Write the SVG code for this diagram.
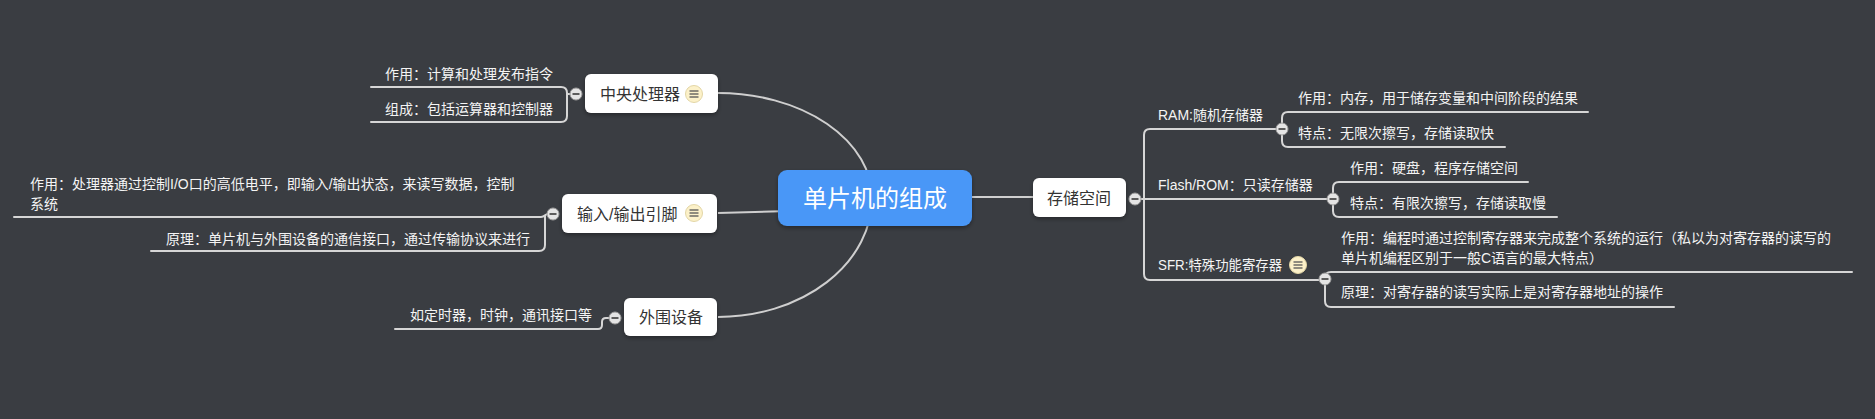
<svg xmlns="http://www.w3.org/2000/svg" width="1875" height="419" viewBox="0 0 1875 419">
<defs>
<style>
.bg{fill:#3a3d42}
.ln{fill:none;stroke:#d6d6d6;stroke-width:2;stroke-linecap:round}
.main{fill:none;stroke:#cfcfcf;stroke-width:2}
.node{fill:#ffffff}
.nt{font-family:"Liberation Sans","Noto Sans CJK SC",sans-serif;font-size:16px;fill:#333333}
.st{font-family:"Liberation Sans","Noto Sans CJK SC",sans-serif;font-size:14px;fill:#f4f4f4}
.ct{font-family:"Liberation Sans","Noto Sans CJK SC",sans-serif;font-size:24px;fill:#ffffff}
.cc{fill:#e4e4e4;stroke:#9c9c9c;stroke-width:1}
.mn{stroke:#5c5c5c;stroke-width:2}
.ni{fill:#fcf1c9;stroke:#e3d6a6;stroke-width:1}
.nl{stroke:#555555;stroke-width:1.3}
</style>
<filter id="sh" x="-20%" y="-30%" width="140%" height="170%">
<feDropShadow dx="0" dy="2" stdDeviation="2" flood-color="#000" flood-opacity="0.35"/>
</filter>
<g id="collapse"><circle class="cc" r="6"/><line class="mn" x1="-3.5" y1="0" x2="3.5" y2="0"/></g>
<g id="note"><circle class="ni" r="8.5"/><line class="nl" x1="-4.5" y1="-3" x2="4.5" y2="-3"/><line class="nl" x1="-4.5" y1="0" x2="4.5" y2="0"/><line class="nl" x1="-4.5" y1="3" x2="4.5" y2="3"/></g>
</defs>
<rect class="bg" x="0" y="0" width="1875" height="419"/>

<g id="connectors">
<path class="main" d="M718,93 A154,105 0 0 1 872,198"/>
<path class="main" d="M718,317 A154,119 0 0 0 872,198"/>
<path class="main" d="M718,213 L790,211"/>
<path class="main" d="M960,197 H1033"/>
<path class="ln" d="M576,94 H567 V93 Q567,87 561,87 H371"/>
<path class="ln" d="M567,94 V116 Q567,122 561,122 H371"/>
<path class="ln" d="M553,214 H548 C545,214 545,217 541,217 H14"/>
<path class="ln" d="M545,216 V245 Q545,251 539,251 H151"/>
<path class="ln" d="M615,318 H606 Q602,318 602,322 V325 Q602,329 598,329 H395"/>
<path class="ln" d="M1135,199 H1144 V135 Q1144,129 1150,129 H1282"/>
<path class="ln" d="M1144,199 V274 Q1144,280 1150,280 H1325"/>
<path class="ln" d="M1144,199 H1333"/>
<path class="ln" d="M1282,129 V118 Q1282,112 1288,112 H1588"/>
<path class="ln" d="M1282,129 V141 Q1282,147 1288,147 H1505"/>
<path class="ln" d="M1333,199 V188 Q1333,182 1339,182 H1528"/>
<path class="ln" d="M1333,199 V211 Q1333,217 1339,217 H1557"/>
<path class="ln" d="M1325,279 V278 Q1325,272 1331,272 H1852"/>
<path class="ln" d="M1325,279 V301 Q1325,307 1331,307 H1674"/>
</g>

<g id="node-center">
<rect x="778" y="170" width="194" height="56" rx="9" fill="#4897f7" filter="url(#sh)"/>
<text class="ct" x="875" y="207" text-anchor="middle">单片机的组成</text>
</g>

<g id="node-cpu">
<rect class="node" x="585" y="74" width="133" height="39" rx="6" filter="url(#sh)"/>
<text class="nt" x="600" y="99.5">中央处理器</text>
<use href="#note" x="694" y="94"/>
<use href="#collapse" x="576" y="94"/>
</g>
<g id="node-cpu-1"><text class="st" x="385" y="79">作用：计算和处理发布指令</text></g>
<g id="node-cpu-2"><text class="st" x="385" y="114">组成：包括运算器和控制器</text></g>

<g id="node-io">
<rect class="node" x="562" y="194" width="155" height="39" rx="6" filter="url(#sh)"/>
<text class="nt" x="577" y="219.5">输入/输出引脚</text>
<use href="#note" x="694" y="213"/>
<use href="#collapse" x="553" y="214"/>
</g>
<g id="node-io-1"><text class="st" x="30" y="189">作用：处理器通过控制I/O口的高低电平，即输入/输出状态，来读写数据，控制</text><text class="st" x="30" y="209">系统</text></g>
<g id="node-io-2"><text class="st" x="166" y="244">原理：单片机与外围设备的通信接口，通过传输协议来进行</text></g>

<g id="node-periph">
<rect class="node" x="624" y="298" width="93" height="38" rx="6" filter="url(#sh)"/>
<text class="nt" x="639" y="323">外围设备</text>
<use href="#collapse" x="615" y="318"/>
</g>
<g id="node-periph-1"><text class="st" x="410" y="320">如定时器，时钟，通讯接口等</text></g>

<g id="node-storage">
<rect class="node" x="1033" y="178" width="93" height="39" rx="6" filter="url(#sh)"/>
<text class="nt" x="1047" y="203.5">存储空间</text>
<use href="#collapse" x="1135" y="199"/>
</g>

<g id="node-ram">
<text class="st" x="1158" y="120">RAM:随机存储器</text>
<use href="#collapse" x="1282" y="129"/>
</g>
<g id="node-ram-1"><text class="st" x="1298" y="103">作用：内存，用于储存变量和中间阶段的结果</text></g>
<g id="node-ram-2"><text class="st" x="1298" y="138">特点：无限次擦写，存储读取快</text></g>

<g id="node-flash">
<text class="st" x="1158" y="190">Flash/ROM：只读存储器</text>
<use href="#collapse" x="1333" y="199"/>
</g>
<g id="node-flash-1"><text class="st" x="1350" y="173">作用：硬盘，程序存储空间</text></g>
<g id="node-flash-2"><text class="st" x="1350" y="208">特点：有限次擦写，存储读取慢</text></g>

<g id="node-sfr">
<text class="st" x="1158" y="270" textLength="124" lengthAdjust="spacingAndGlyphs">SFR:特殊功能寄存器</text>
<use href="#note" x="1298" y="265"/>
<use href="#collapse" x="1325" y="279"/>
</g>
<g id="node-sfr-1"><text class="st" x="1341" y="243">作用：编程时通过控制寄存器来完成整个系统的运行（私以为对寄存器的读写的</text><text class="st" x="1341" y="263">单片机编程区别于一般C语言的最大特点）</text></g>
<g id="node-sfr-2"><text class="st" x="1341" y="297">原理：对寄存器的读写实际上是对寄存器地址的操作</text></g>
</svg>
